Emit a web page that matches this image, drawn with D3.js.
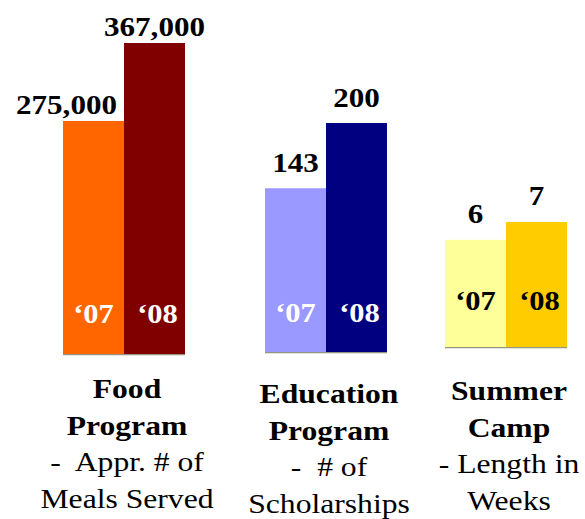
<!DOCTYPE html>
<html>
<head>
<meta charset="utf-8">
<script src="https://cdn.jsdelivr.net/npm/d3@7"></script>
<style>
  body { margin: 0; background: #fff; }
</style>
</head>
<body>
<svg id="chart"></svg>
<script>
// data
const programs = ["Food Program", "Education Program", "Summer Camp"];
const years = ["‘07", "‘08"];
const values = [
  [275000, 367000],
  [143, 200],
  [6, 7]
];
const valueLabels = [
  ["275,000", "367,000"],
  ["143", "200"],
  ["6", "7"]
];
const titleLines = [
  ["Food", "Program"],
  ["Education", "Program"],
  ["Summer", "Camp"]
];
const noteLines = [
  ["-\u00a0 Appr. # of", "Meals Served"],
  ["-\u00a0 # of", "Scholarships"],
  ["- Length in", "Weeks"]
];
const barColors = [
  ["#ff6600", "#800000"],
  ["#9999ff", "#000080"],
  ["#ffff99", "#ffcc00"]
];
const yearColors = ["#ffffff", "#ffffff", "#000000"];

// layout
const width = 585, height = 519;
const stretch = 1.13;            // picture is a little wide
const bottoms = [354, 352, 347];
const tops = [43, 123, 222];     // where each group's max value lands
const labelGap = [7, 16, 17];
const yearGap = [31, 30, 37];
const textTop = [398, 403, 400];
const lineH = 36.5;
const valueSize = 27.5;

const svg = d3.select("#chart")
    .attr("width", width)
    .attr("height", height);

const x0 = d3.scaleOrdinal()
    .domain(programs)
    .range([124, 326, 506]);

const x1 = d3.scaleBand()
    .domain(years)
    .range([-61, 61]);

const yScales = programs.map((p, i) =>
  d3.scaleLinear()
    .domain([0, d3.max(values[i])])
    .range([bottoms[i], tops[i]]));

// stretched text helper
function label(parent, x, y, str, size, weight, fill, anchor) {
  const g = parent.append("g")
    .attr("transform", `translate(${x},${y}) scale(${stretch},1)`);
  return g.append("text")
    .attr("text-anchor", anchor || "middle")
    .attr("style", `font-family:"Liberation Serif";font-size:${size}px;font-weight:${weight};fill:${fill}`)
    .text(str);
}

// rough width of a bold numeric label (digits 0.5em, comma 0.25em)
const numWidth = s => s.split("").reduce((a, c) => a + (c === "," ? 0.25 : 0.5), 0) * valueSize * stretch;

programs.forEach((p, i) => {
  const gx = x0(p);
  const y = yScales[i];
  const grp = svg.append("g").attr("class", "group");

  // baseline under the bars
  grp.append("line")
    .attr("x1", gx + x1.range()[0])
    .attr("x2", gx + x1.range()[1])
    .attr("y1", bottoms[i] + 0.5)
    .attr("y2", bottoms[i] + 0.5)
    .attr("stroke", "#6b6b50")
    .attr("stroke-width", 1.5)
    .attr("opacity", 0.7);

  grp.selectAll("rect")
    .data(values[i])
    .enter().append("rect")
    .attr("x", (d, j) => gx + x1(years[j]))
    .attr("y", d => y(d))
    .attr("width", x1.bandwidth())
    .attr("height", d => bottoms[i] - y(d))
    .attr("fill", (d, j) => barColors[i][j]);

  values[i].forEach((v, j) => {
    const bx = gx + x1(years[j]);
    let cx = bx + x1.bandwidth() / 2;
    if (j === 0) {
      // keep the first label clear of the taller neighbour
      const w = numWidth(valueLabels[i][j]);
      cx = Math.min(cx, gx + x1(years[1]) - 7 - w / 2);
    }
    label(grp, cx, y(v) - labelGap[i], valueLabels[i][j], valueSize, "bold", "#000");
    // year inside the bar
    label(grp, bx + x1.bandwidth() / 2 + (j === 1 ? 3 : 0), bottoms[i] - yearGap[i], years[j], 27, "bold", yearColors[i]);
  });

  // category text
  const tx = gx + 3;
  titleLines[i].forEach((s, k) => {
    label(grp, tx, textTop[i] + k * lineH, s, 28, "bold", "#000");
  });
  noteLines[i].forEach((s, k) => {
    label(grp, tx, textTop[i] + (k + 2) * lineH, s, 28, "normal", "#000");
  });
});
</script>
</body>
</html>
